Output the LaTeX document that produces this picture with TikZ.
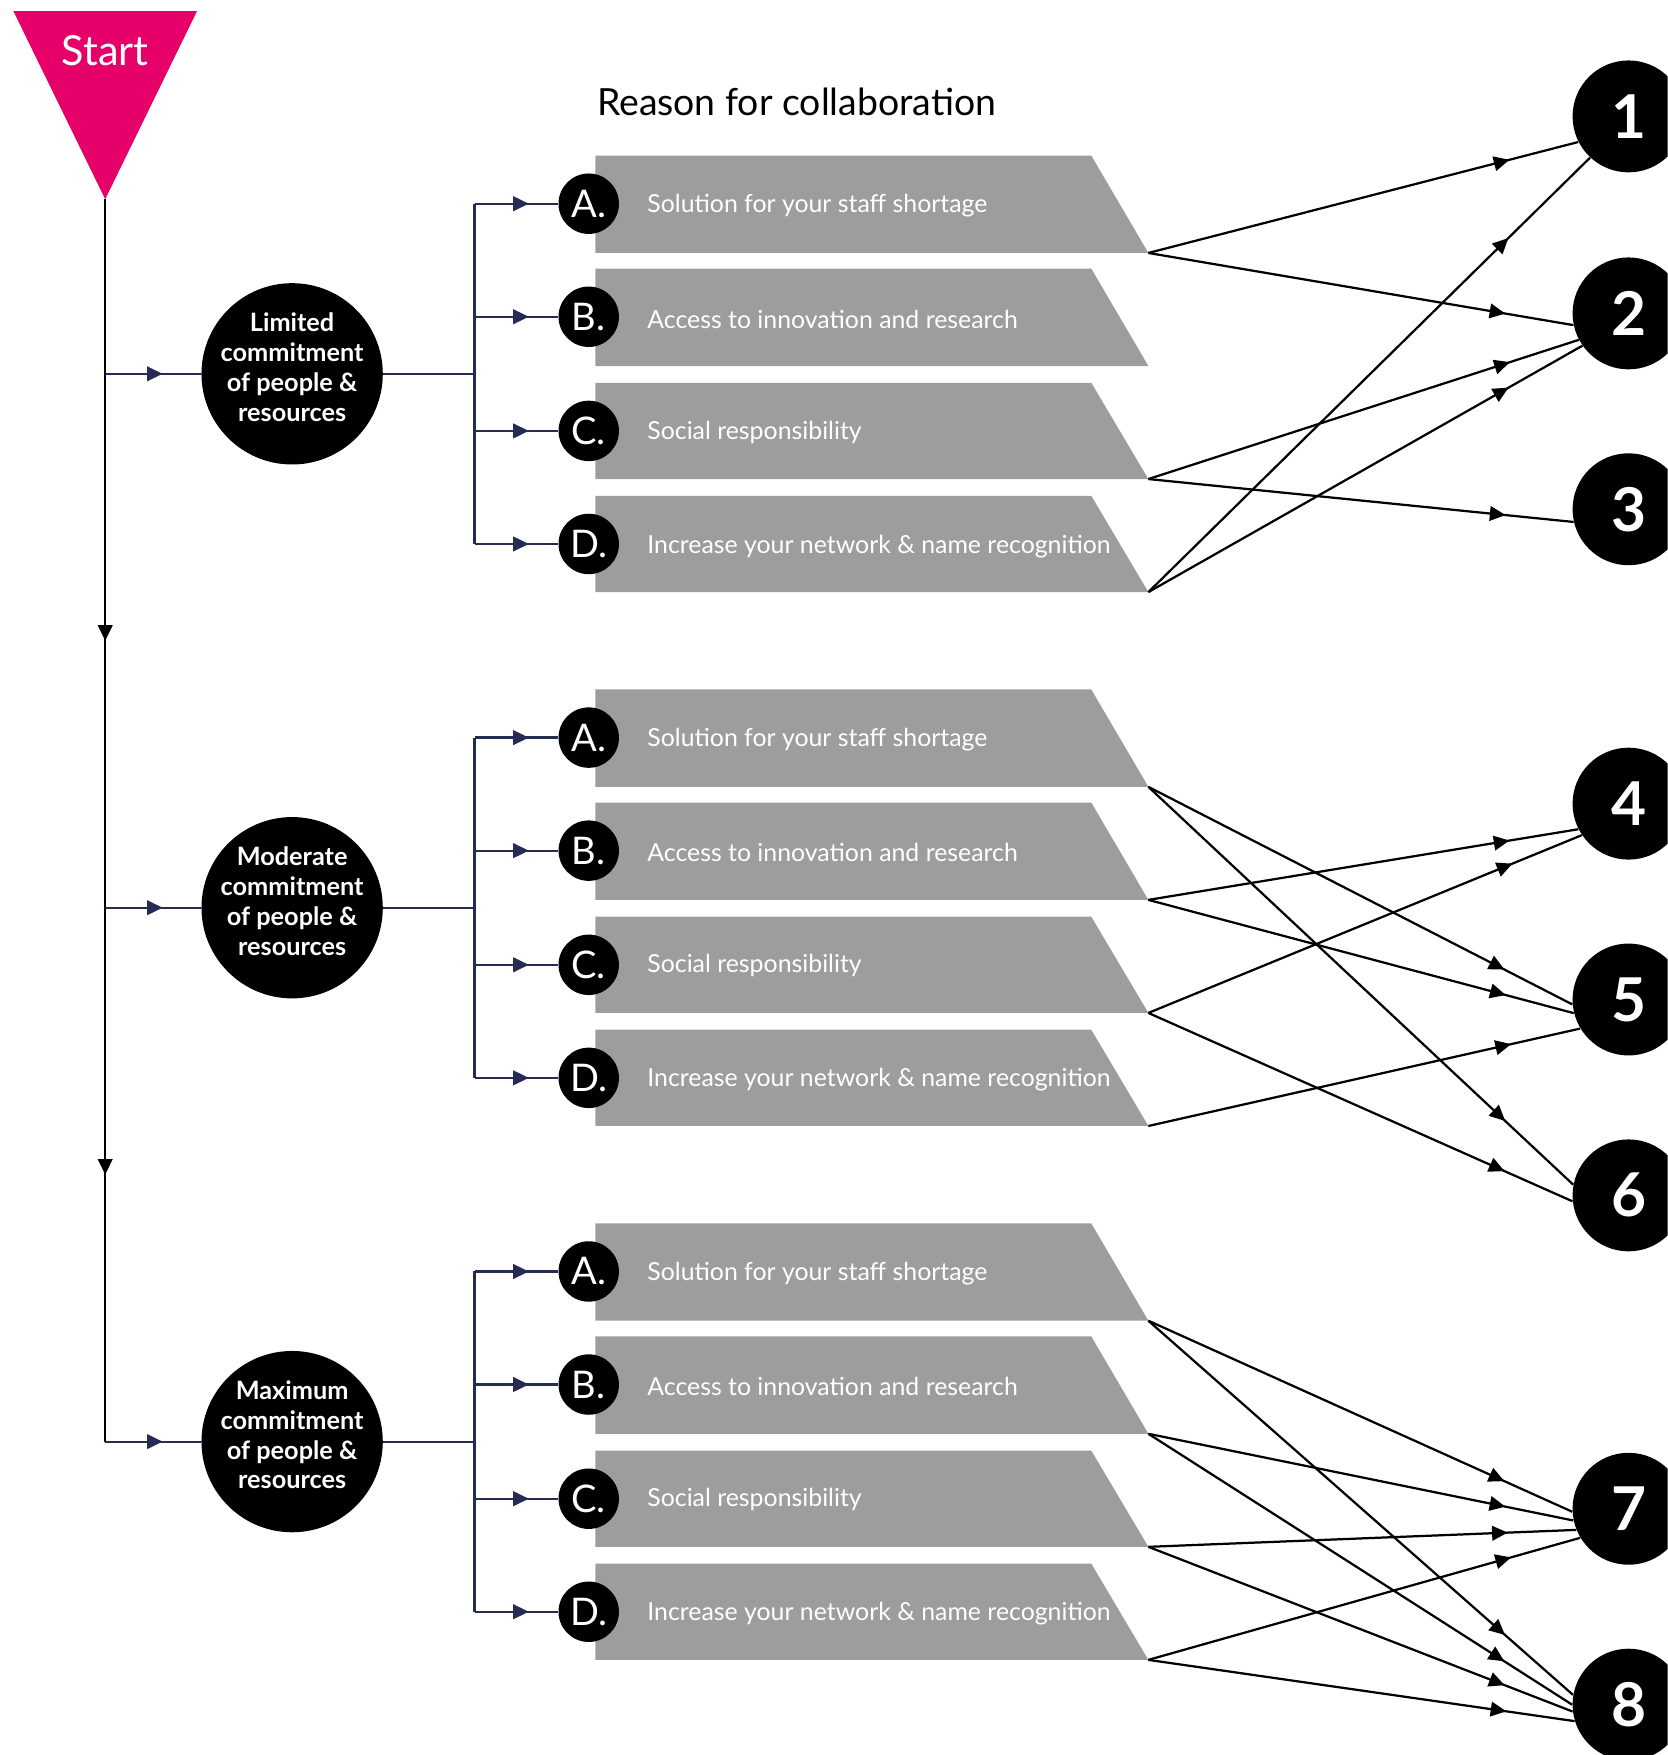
\documentclass[tikz,border=0pt]{standalone}
\usepackage{fontspec}
\setmainfont{Lato}
\usetikzlibrary{positioning,calc,arrows.meta,decorations.markings}

\definecolor{startpink}{RGB}{230,0,105}
\definecolor{bannergray}{RGB}{157,157,156}
\definecolor{branchnavy}{RGB}{36,44,86}

\tikzset{
  trunk/.style={line width=1pt, draw=black},
  branch/.style={line width=1pt, draw=branchnavy},
  link/.style={line width=1pt, draw=black},
  tipat/.style={postaction={decorate}, decoration={markings, mark=at position #1 with {\arrow{Triangle[length=7pt,width=6.5pt]}}}},
  tipat/.default=0.84,
  banner/.style={fill=bannergray},
  reason/.style={anchor=west, text=white, inner sep=0pt, font=\fontsize{11.1}{13}\selectfont},
  letter/.style={circle, fill=black, text=white, minimum size=27pt, inner sep=0pt, font=\fontsize{17}{17}\selectfont},
  level/.style={circle, fill=black, text=white, minimum size=81pt, inner sep=-4pt, align=center, text depth=6pt, font=\bfseries\fontsize{11.3}{13.3}\selectfont},
  outcome/.style={circle, fill=black, text=white, minimum size=50pt, inner sep=0pt, font=\bfseries\fontsize{27}{27}\selectfont},
}

\begin{document}
\begin{tikzpicture}[x=0.5pt, y=-0.5pt]
\useasboundingbox (0,0) rectangle (1490,1568);
\clip (0,0) rectangle (1490,1568);

% start
\fill[startpink] (12,10) -- (176,10) -- (94,178) -- cycle;
\coordinate (start) at (94,178);
\node[text=white, font=\fontsize{18.5}{18.5}\selectfont] (startlbl) at (94,45) {Start};
\node[anchor=west, inner sep=0pt, font=\fontsize{16.7}{16.7}\selectfont] (title) at (533,91) {Reason for collaboration};

% commitment levels
\node[level] (lim) at (261,334) {Limited\\commitment\\of people \&\\resources};
\node[level] (mod) at (261,811) {Moderate\\commitment\\of people \&\\resources};
\node[level] (max) at (261,1288) {Maximum\\commitment\\of people \&\\resources};

% banners, group 1
\path[banner] (532,139) -- (975,139) -- (1026,226) -- (532,226) -- cycle;
\path[banner] (532,240) -- (975,240) -- (1026,327) -- (532,327) -- cycle;
\path[banner] (532,342) -- (975,342) -- (1026,428) -- (532,428) -- cycle;
\path[banner] (532,443) -- (975,443) -- (1026,529) -- (532,529) -- cycle;
\node[reason] (r1A) at (578,184) {Solution for your staff shortage};
\node[reason] (r1B) at (578,285) {Access to innovation and research};
\node[reason] (r1C) at (578,386) {Social responsibility};
\node[reason] (r1D) at (578,488) {Increase your network \& name recognition};
\node[letter] (g1A) at (526,182) {A.};
\node[letter] (g1B) at (526,283) {B.};
\node[letter] (g1C) at (526,385) {C.};
\node[letter] (g1D) at (526,486) {D.};
\coordinate (e1A) at (1026,226);
\coordinate (e1C) at (1026,428);
\coordinate (e1D) at (1026,529);

% banners, group 2
\path[banner] (532,616) -- (975,616) -- (1026,703) -- (532,703) -- cycle;
\path[banner] (532,717) -- (975,717) -- (1026,804) -- (532,804) -- cycle;
\path[banner] (532,819) -- (975,819) -- (1026,905) -- (532,905) -- cycle;
\path[banner] (532,920) -- (975,920) -- (1026,1006) -- (532,1006) -- cycle;
\node[reason] (r2A) at (578,661) {Solution for your staff shortage};
\node[reason] (r2B) at (578,762) {Access to innovation and research};
\node[reason] (r2C) at (578,863) {Social responsibility};
\node[reason] (r2D) at (578,965) {Increase your network \& name recognition};
\node[letter] (g2A) at (526,659) {A.};
\node[letter] (g2B) at (526,760) {B.};
\node[letter] (g2C) at (526,862) {C.};
\node[letter] (g2D) at (526,963) {D.};
\coordinate (e2A) at (1026,703);
\coordinate (e2B) at (1026,804);
\coordinate (e2C) at (1026,905);
\coordinate (e2D) at (1026,1006);

% banners, group 3
\path[banner] (532,1093) -- (975,1093) -- (1026,1180) -- (532,1180) -- cycle;
\path[banner] (532,1194) -- (975,1194) -- (1026,1281) -- (532,1281) -- cycle;
\path[banner] (532,1296) -- (975,1296) -- (1026,1382) -- (532,1382) -- cycle;
\path[banner] (532,1397) -- (975,1397) -- (1026,1483) -- (532,1483) -- cycle;
\node[reason] (r3A) at (578,1138) {Solution for your staff shortage};
\node[reason] (r3B) at (578,1239) {Access to innovation and research};
\node[reason] (r3C) at (578,1340) {Social responsibility};
\node[reason] (r3D) at (578,1442) {Increase your network \& name recognition};
\node[letter] (g3A) at (526,1136) {A.};
\node[letter] (g3B) at (526,1237) {B.};
\node[letter] (g3C) at (526,1339) {C.};
\node[letter] (g3D) at (526,1440) {D.};
\coordinate (e3A) at (1026,1180);
\coordinate (e3B) at (1026,1281);
\coordinate (e3C) at (1026,1382);
\coordinate (e3D) at (1026,1483);

% outcomes
\node[outcome] (n1) at (1455,104) {1};
\node[outcome] (n2) at (1455,280) {2};
\node[outcome] (n3) at (1455,455) {3};
\node[outcome] (n4) at (1455,718) {4};
\node[outcome] (n5) at (1455,893) {5};
\node[outcome] (n6) at (1455,1068) {6};
\node[outcome] (n7) at (1455,1348) {7};
\node[outcome] (n8) at (1455,1523) {8};

% trunk
\draw[trunk] (start) -- (start |- lim);
\draw[trunk, tipat=0.5] (start |- lim) -- (start |- mod);
\draw[trunk, tipat=0.5] (start |- mod) -- (start |- max);
\draw[branch, tipat=0.6] (start |- lim) -- (lim);
\draw[branch, tipat=0.6] (start |- mod) -- (mod);
\draw[branch, tipat=0.6] (start |- max) -- (max);

% bars
\coordinate (bar1) at (424,334);
\coordinate (bar2) at (424,811);
\coordinate (bar3) at (424,1288);
\draw[branch] (lim) -- (bar1);
\draw[branch] (mod) -- (bar2);
\draw[branch] (max) -- (bar3);
\draw[branch] (bar1 |- g1A) -- (bar1 |- g1D);
\draw[branch] (bar2 |- g2A) -- (bar2 |- g2D);
\draw[branch] (bar3 |- g3A) -- (bar3 |- g3D);
\draw[branch, tipat=0.65] (bar1 |- g1A) -- (g1A);
\draw[branch, tipat=0.65] (bar1 |- g1B) -- (g1B);
\draw[branch, tipat=0.65] (bar1 |- g1C) -- (g1C);
\draw[branch, tipat=0.65] (bar1 |- g1D) -- (g1D);
\draw[branch, tipat=0.65] (bar2 |- g2A) -- (g2A);
\draw[branch, tipat=0.65] (bar2 |- g2B) -- (g2B);
\draw[branch, tipat=0.65] (bar2 |- g2C) -- (g2C);
\draw[branch, tipat=0.65] (bar2 |- g2D) -- (g2D);
\draw[branch, tipat=0.65] (bar3 |- g3A) -- (g3A);
\draw[branch, tipat=0.65] (bar3 |- g3B) -- (g3B);
\draw[branch, tipat=0.65] (bar3 |- g3C) -- (g3C);
\draw[branch, tipat=0.65] (bar3 |- g3D) -- (g3D);

% reasons to outcomes
\draw[link, tipat] (e1A) -- (n1.207);
\draw[link, tipat] (e1A) -- (n2.192);
\draw[link, tipat] (e1C) -- (n2.208);
\draw[link, tipat] (e1C) -- (n3.193);
\draw[link, tipat=0.815] (e1D) -- (n1.227);
\draw[link, tipat=0.83] (e1D) -- (n2.215);

\draw[link, tipat] (e2A) -- (n5.185);
\draw[link, tipat] (e2A) -- (n6.169);
\draw[link, tipat] (e2B) -- (n4.207);
\draw[link, tipat] (e2B) -- (n5.194);
\draw[link, tipat] (e2C) -- (n4.214);
\draw[link, tipat] (e2C) -- (n6.186);
\draw[link, tipat] (e2D) -- (n5.211);

\draw[link, tipat] (e3A) -- (n7.183);
\draw[link, tipat] (e3A) -- (n8.170);
\draw[link, tipat] (e3B) -- (n7.192);
\draw[link, tipat] (e3B) -- (n8.180);
\draw[link, tipat] (e3C) -- (n7.202);
\draw[link, tipat] (e3C) -- (n8.187);
\draw[link, tipat] (e3D) -- (n7.211);
\draw[link, tipat] (e3D) -- (n8.197);
\end{tikzpicture}
\end{document}
